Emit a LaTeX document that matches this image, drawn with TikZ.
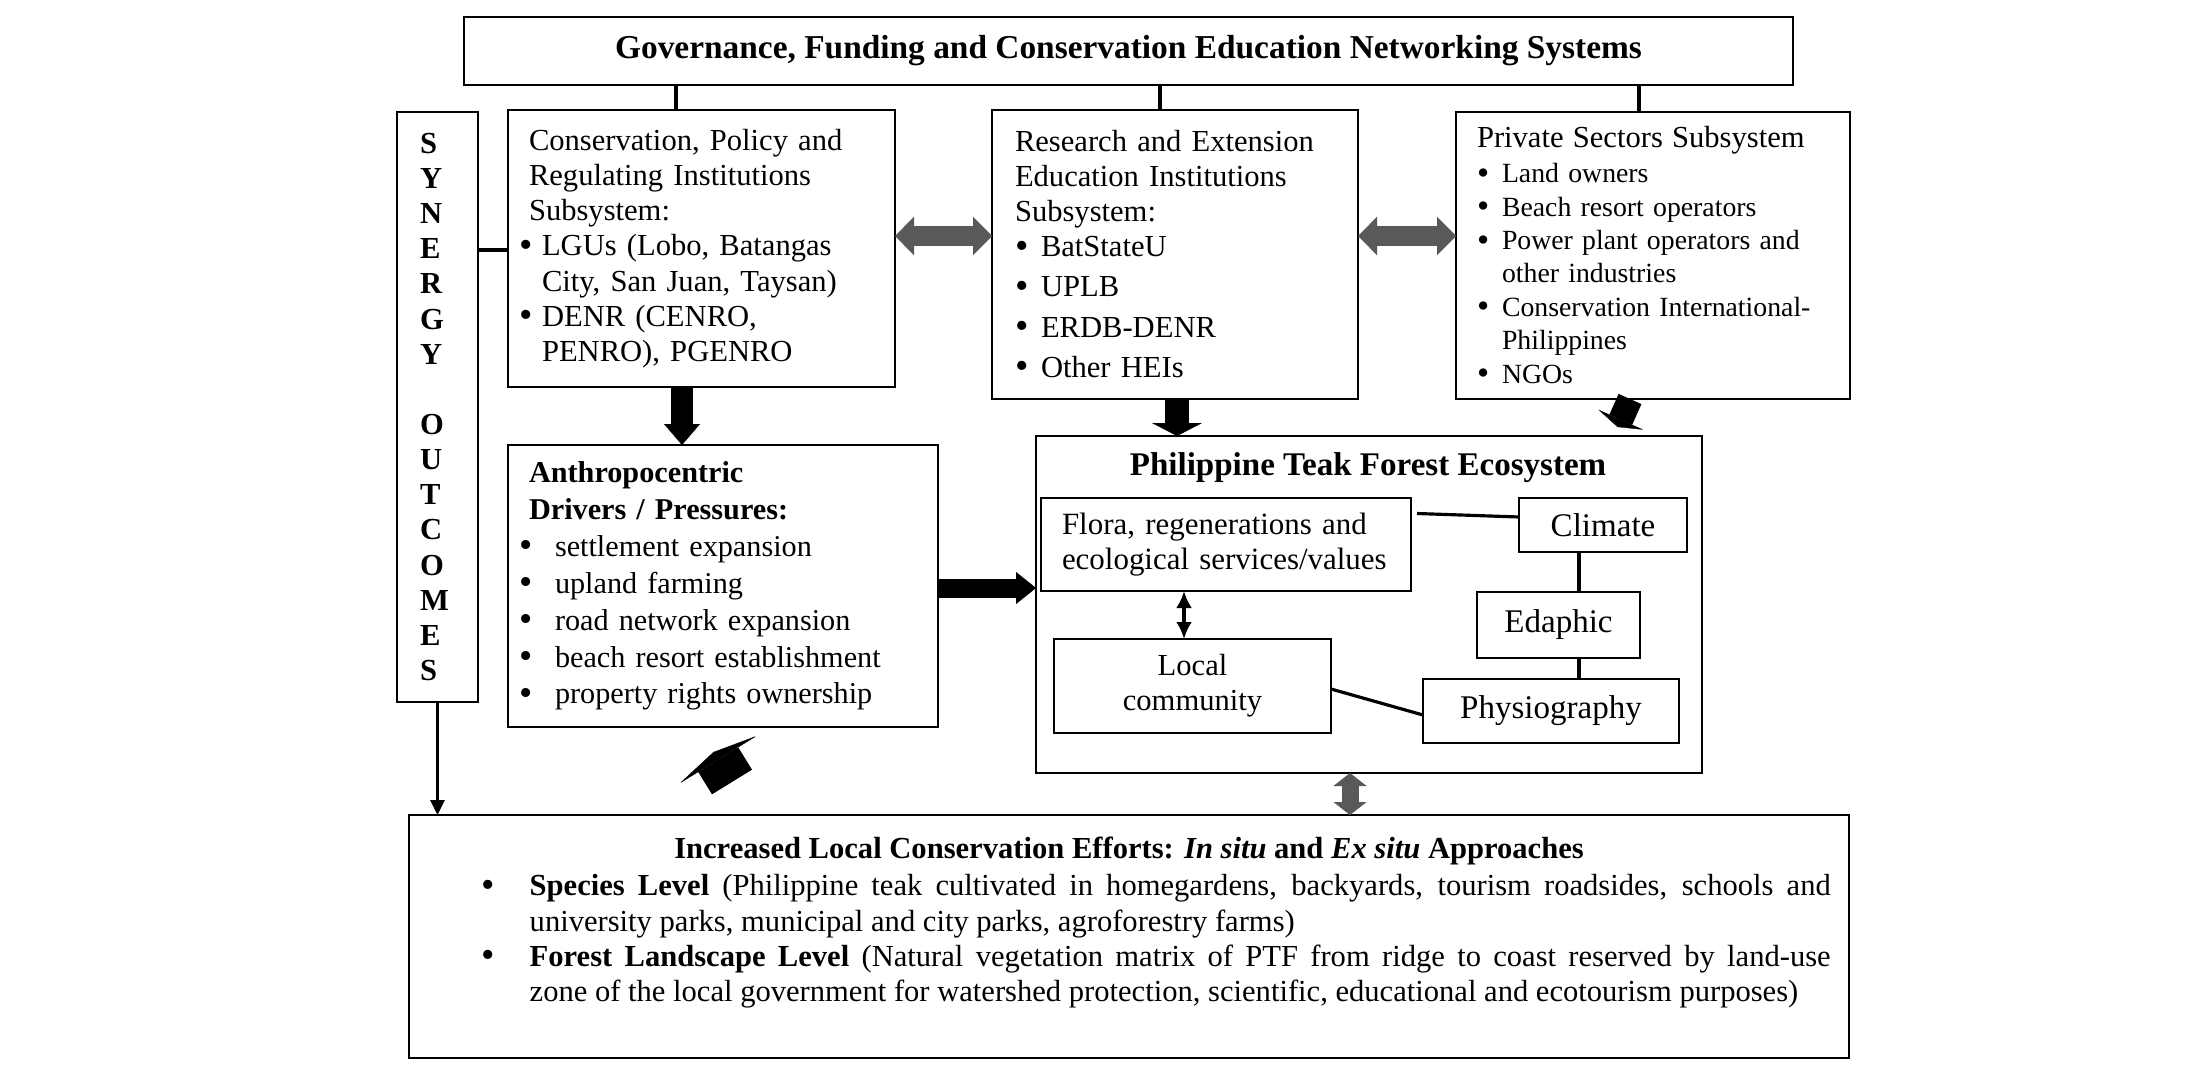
\documentclass[tikz,border=0pt]{standalone}
\usepackage{fontspec}
\setmainfont{Liberation Serif}
\usetikzlibrary{arrows.meta}
\definecolor{arrgray}{RGB}{89,89,89}
\newcommand{\bul}[1]{\makebox[#1][l]{\raisebox{-0.12ex}{\scalebox{1.25}{\textbullet}}}}

\begin{document}
\begin{tikzpicture}[
    box/.style={draw, line width=0.5pt, inner ysep=0pt, outer sep=0pt},
    txt/.style={font=\fontsize{8.7}{10}\selectfont},
    conn/.style={line width=0.9pt},
    blkarrow/.style n args={3}{line width=#1, -{Triangle[length=#2, width=#3, line width=0.1pt]}},
    gryarrow/.style n args={3}{arrgray, line width=#1,
        {Triangle[length=#2, width=#3, line width=0.1pt]}-{Triangle[length=#2, width=#3, line width=0.1pt]}}
]
    \useasboundingbox (0,0) rectangle (22,-10.77);

    \node[box, anchor=north west, minimum width=13.29cm, minimum height=0.68cm,
        font=\fontsize{9.5}{11}\selectfont\bfseries] (gov) at (4.64,-0.17)
        {Governance, Funding and Conservation Education Networking Systems};

    \node[box, anchor=north west, align=left, text width=0.35cm, inner xsep=0.23cm,
        minimum height=5.90cm, font=\fontsize{8.7}{10}\selectfont\bfseries] (syn) at (3.97,-1.12)
        {S\\Y\\N\\E\\R\\G\\Y\\[10pt]O\\U\\T\\C\\O\\M\\E\\S};

    \node[box, txt, anchor=north west, align=left, text width=3.45cm, inner xsep=0.21cm,
        minimum height=2.77cm] (cpr) at (5.08,-1.10)
        {Conservation, Policy and\\
         Regulating Institutions\\
         Subsystem:\\
         \hspace*{-0.1cm}\bul{0.23cm}LGUs (Lobo, Batangas\\
         \hspace*{0.13cm}City, San Juan, Taysan)\\
         \hspace*{-0.1cm}\bul{0.23cm}DENR (CENRO,\\
         \hspace*{0.13cm}PENRO), PGENRO};

    \node[box, txt, anchor=north west, align=left, text width=3.20cm, inner xsep=0.23cm,
        minimum height=2.89cm] (ree) at (9.92,-1.10)
        {Research and Extension\\
         Education Institutions\\
         Subsystem:\\
         \bul{0.26cm}BatStateU\\[0.05cm]
         \bul{0.26cm}UPLB\\[0.05cm]
         \bul{0.26cm}ERDB-DENR\\[0.05cm]
         \bul{0.26cm}Other HEIs};

    \node[box, anchor=north west, align=left, text width=3.52cm, inner xsep=0.21cm,
        minimum height=2.87cm, font=\fontsize{7.9}{9.5}\selectfont] (priv) at (14.56,-1.12)
        {{\fontsize{8.7}{9.5}\selectfont Private Sectors Subsystem}\\[0.5pt]
         \bul{0.25cm}Land owners\\
         \bul{0.25cm}Beach resort operators\\
         \bul{0.25cm}Power plant operators and\\
         \hspace*{0.25cm}other industries\\
         \bul{0.25cm}Conservation International-\\
         \hspace*{0.25cm}Philippines\\
         \bul{0.25cm}NGOs};

    \node[box, anchor=north west, align=left, text width=3.88cm, inner xsep=0.21cm,
        minimum height=2.82cm, font=\fontsize{8.6}{10.5}\selectfont] (anth) at (5.08,-4.45)
        {\textbf{Anthropocentric}\\
         \textbf{Drivers / Pressures:}\\
         \hspace*{-0.1cm}\bul{0.36cm}settlement expansion\\
         \hspace*{-0.1cm}\bul{0.36cm}upland farming\\
         \hspace*{-0.1cm}\bul{0.36cm}road network expansion\\
         \hspace*{-0.1cm}\bul{0.36cm}beach resort establishment\\
         \hspace*{-0.1cm}\bul{0.36cm}property rights ownership};

    \node[box, anchor=north west, minimum width=6.66cm, minimum height=3.37cm] (ptf) at (10.36,-4.36) {};
    \node[font=\fontsize{9.4}{11}\selectfont\bfseries] (ptftitle) at (13.68,-4.68)
        {Philippine Teak Forest Ecosystem};

    \node[box, anchor=north west, align=left, text width=3.28cm, inner xsep=0.21cm,
        minimum height=0.93cm, font=\fontsize{8.8}{10}\selectfont] (flora) at (10.41,-4.98)
        {Flora, regenerations and\\ecological services/values};
    \node[box, anchor=north west, minimum width=1.68cm, minimum height=0.54cm,
        font=\fontsize{9.4}{11}\selectfont] (climate) at (15.19,-4.98) {Climate};
    \node[box, anchor=north west, minimum width=1.63cm, minimum height=0.66cm,
        font=\fontsize{9.4}{11}\selectfont] (edaphic) at (14.77,-5.92) {Edaphic};
    \node[box, anchor=north west, minimum width=2.56cm, minimum height=0.64cm,
        font=\fontsize{9.4}{11}\selectfont] (physio) at (14.23,-6.79) {Physiography};
    \node[box, txt, anchor=north west, align=center, minimum width=2.77cm,
        minimum height=0.94cm] (local) at (10.54,-6.39) {Local\\community};

    \node[box, anchor=north west, minimum width=14.40cm, minimum height=2.43cm] (eff) at (4.09,-8.15) {};
    \node[font=\fontsize{8.7}{10}\selectfont\bfseries, anchor=base] (efftitle) at (11.29,-8.58)
        {Increased Local Conservation Efforts: \textit{In situ} and \textit{Ex situ} Approaches};
    \node[txt, anchor=north west, inner sep=0pt, text width=13.01cm, align=justify] (efftext) at (5.29,-8.74)
        {\hspace*{-0.48cm}\bul{0.48cm}\textbf{Species Level} (Philippine teak cultivated in homegardens, backyards, tourism roadsides, schools and\linebreak
         university parks, municipal and city parks, agroforestry farms)\\
         \hspace*{-0.48cm}\bul{0.48cm}\textbf{Forest Landscape Level} (Natural vegetation matrix of PTF from ridge to coast reserved by land-use\linebreak
         zone of the local government for watershed protection, scientific, educational and ecotourism purposes)};

    \draw[conn] (gov.south -| 6.76,0) -- (cpr.north -| 6.76,0);
    \draw[conn] (gov.south -| 11.60,0) -- (ree.north -| 11.60,0);
    \draw[conn] (gov.south -| 16.39,0) -- (priv.north -| 16.39,0);
    \draw[conn] (syn.east |- 0,-2.50) -- (cpr.west |- 0,-2.50);

    \draw[gryarrow={0.19cm}{0.19cm}{0.38cm}] (cpr.east |- 0,-2.36) -- (ree.west |- 0,-2.36);
    \draw[gryarrow={0.19cm}{0.19cm}{0.38cm}] (ree.east |- 0,-2.36) -- (priv.west |- 0,-2.36);
    \draw[gryarrow={0.17cm}{0.13cm}{0.33cm}] (ptf.south -| 13.50,0) -- (eff.north -| 13.50,0);

    \coordinate (privtip) at (16.175,-4.27);
    \coordinate (capbase) at (7.32,-7.82);
    \coordinate (captip) at (7.135,-7.52);
    \draw[blkarrow={0.22cm}{0.21cm}{0.36cm}] (cpr.south -| 6.82,0) -- (anth.north -| 6.82,0);
    \draw[blkarrow={0.24cm}{0.13cm}{0.50cm}] (ree.south -| 11.77,0) -- (ptf.north -| 11.77,0);
    \draw[blkarrow={0.25cm}{0.08cm}{0.49cm}] (priv.south -| 16.30,0) -- (privtip);
    \draw[blkarrow={0.19cm}{0.20cm}{0.32cm}] (anth.east |- 0,-5.88) -- (ptf.west |- 0,-5.88);
    \draw[blkarrow={0.47cm}{0.09cm}{0.91cm}] (capbase) -- (captip);

    \draw[line width=1pt, {Latex[length=0.17cm, width=0.16cm]}-{Latex[length=0.17cm, width=0.16cm]}]
        (flora.south -| 11.84,0) -- (local.north -| 11.84,0);
    \draw[conn, -{Triangle[length=0.15cm, width=0.14cm]}] (syn.south) -- (syn.south |- eff.north);

    \draw[conn] ([xshift=0.06cm,yshift=0.31cm]flora.east) -- ([yshift=0.08cm]climate.west);
    \draw[conn] (climate.south -| 15.79,0) -- (edaphic.north -| 15.79,0);
    \draw[conn] (edaphic.south -| 15.79,0) -- (physio.north -| 15.79,0);
    \draw[conn] ([yshift=-0.03cm]local.east) -- ([yshift=-0.04cm]physio.west);
\end{tikzpicture}
\end{document}
